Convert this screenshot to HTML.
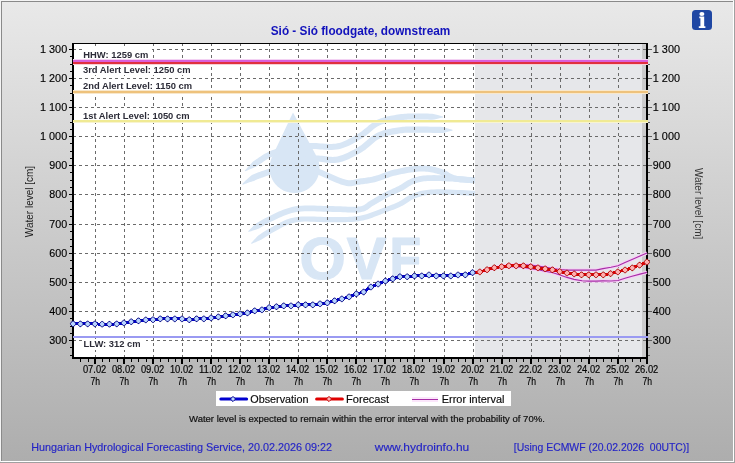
<!DOCTYPE html>
<html><head><meta charset="utf-8"><title>Sió - Sió floodgate, downstream</title>
<style>
html,body{margin:0;padding:0;}
body{width:735px;height:463px;overflow:hidden;position:relative;background:linear-gradient(180deg,#e9e9e9 0%,#adadad 100%);font-family:"Liberation Sans",Arial,sans-serif;}
svg{position:absolute;left:0;top:0;}
text{font-family:"Liberation Sans",Arial,sans-serif;}
</style></head><body>
<svg width="735" height="463" viewBox="0 0 735 463">

<g shape-rendering="crispEdges">
<rect x="0" y="0" width="735" height="1" fill="#f4f4f4"/><rect x="0" y="0" width="1" height="463" fill="#f4f4f4"/>
<rect x="1" y="1" width="733" height="1" fill="#8a8a8a"/><rect x="1" y="1" width="1" height="461" fill="#8a8a8a"/>
<rect x="1" y="461" width="733" height="1" fill="#ffffff"/><rect x="733" y="1" width="1" height="461" fill="#ffffff"/>
<rect x="0" y="462" width="735" height="1" fill="#a0a0a0"/><rect x="734" y="0" width="1" height="463" fill="#a0a0a0"/>
</g>
<rect x="74" y="44" width="401" height="313" fill="#ffffff" shape-rendering="crispEdges"/>
<g id="wm">
<path d="M293.0,112.5 L316.51,156.14 A25.0,25.0 0 1 1 271.88,157.35 Z" fill="#d8e6f5"/>
<path d="M245.26,171.37 L245.93,171.08 L246.76,170.71 L247.73,170.28 L248.81,169.79 L249.99,169.27 L251.24,168.72 L252.55,168.15 L253.87,167.58 L255.20,167.01 L256.51,166.46 L257.61,165.70 L258.67,164.99 L259.71,164.29 L260.72,163.59 L261.70,162.91 L262.65,162.23 L263.59,161.58 L264.54,160.94 L265.50,160.30 L266.51,159.68 L267.56,159.07 L268.69,158.46 L269.90,157.85 L271.23,157.24 L272.70,156.60 L274.31,155.92 L276.02,155.22 L277.82,154.52 L279.67,153.83 L281.56,153.14 L283.47,152.48 L285.38,151.86 L287.27,151.29 L289.12,150.77 L290.90,150.31 L292.60,149.94 L294.21,149.64 L295.76,149.42 L297.28,149.25 L298.79,149.13 L300.29,149.05 L301.81,149.01 L303.36,149.00 L304.95,149.00 L306.61,149.01 L308.33,149.02 L310.14,149.02 L312.00,149.00 L313.90,149.01 L315.88,149.09 L317.97,149.22 L320.14,149.39 L322.39,149.56 L324.68,149.73 L327.01,149.86 L329.35,149.94 L331.70,149.94 L334.04,149.84 L336.35,149.62 L338.60,149.24 L340.77,148.72 L342.88,148.08 L344.93,147.35 L346.94,146.52 L348.91,145.63 L350.83,144.68 L352.70,143.69 L354.54,142.68 L356.34,141.64 L358.10,140.61 L359.83,139.59 L361.56,138.56 L363.32,137.46 L365.03,136.26 L366.67,135.02 L368.25,133.75 L369.77,132.48 L371.26,131.23 L372.72,130.02 L374.16,128.87 L375.58,127.80 L377.01,126.83 L378.43,125.96 L379.89,125.21 L381.42,124.54 L383.04,123.93 L384.70,123.38 L386.40,122.88 L388.14,122.44 L389.90,122.04 L391.68,121.68 L393.46,121.35 L395.23,121.06 L397.00,120.78 L398.73,120.52 L400.42,120.27 L402.02,120.05 L403.55,119.88 L405.03,119.75 L406.50,119.65 L407.95,119.59 L409.41,119.54 L410.89,119.52 L412.40,119.51 L413.95,119.51 L415.57,119.51 L417.26,119.51 L419.01,119.50 L420.89,119.50 L422.96,119.51 L425.16,119.54 L427.46,119.59 L429.79,119.64 L432.11,119.70 L434.38,119.39 L436.53,118.91 L438.52,118.46 L440.30,118.06 L441.80,117.72 L442.99,117.45 L443.01,116.55 L441.84,116.22 L440.36,115.80 L438.62,115.30 L436.65,114.74 L434.52,114.13 L432.27,113.70 L429.93,113.64 L427.58,113.59 L425.26,113.55 L423.02,113.51 L420.91,113.50 L418.99,113.50 L417.24,113.51 L415.57,113.51 L413.95,113.51 L412.37,113.51 L410.81,113.52 L409.27,113.54 L407.72,113.59 L406.16,113.66 L404.57,113.77 L402.95,113.91 L401.28,114.10 L399.58,114.33 L397.85,114.59 L396.08,114.85 L394.27,115.13 L392.42,115.45 L390.54,115.79 L388.65,116.17 L386.74,116.61 L384.82,117.09 L382.92,117.65 L381.03,118.28 L379.16,118.98 L377.31,119.79 L375.50,120.73 L373.75,121.79 L372.08,122.93 L370.48,124.13 L368.93,125.37 L367.42,126.63 L365.93,127.88 L364.45,129.11 L362.98,130.29 L361.50,131.41 L360.00,132.46 L358.44,133.44 L356.77,134.42 L355.05,135.44 L353.33,136.45 L351.59,137.45 L349.85,138.42 L348.10,139.34 L346.34,140.21 L344.57,141.02 L342.79,141.74 L341.00,142.38 L339.20,142.93 L337.40,143.36 L335.56,143.67 L333.62,143.86 L331.58,143.94 L329.46,143.94 L327.28,143.86 L325.07,143.74 L322.83,143.58 L320.60,143.40 L318.38,143.24 L316.19,143.10 L314.04,143.01 L312.00,143.00 L310.12,143.02 L308.35,143.02 L306.64,143.01 L304.97,143.00 L303.33,143.00 L301.69,143.01 L300.05,143.06 L298.40,143.14 L296.72,143.28 L295.00,143.47 L293.23,143.73 L291.40,144.06 L289.51,144.48 L287.57,144.97 L285.59,145.53 L283.58,146.14 L281.57,146.79 L279.56,147.48 L277.59,148.20 L275.67,148.92 L273.80,149.65 L272.02,150.37 L270.35,151.08 L268.77,151.76 L267.30,152.44 L265.91,153.14 L264.63,153.84 L263.42,154.54 L262.29,155.24 L261.21,155.94 L260.19,156.63 L259.20,157.32 L258.24,158.00 L257.29,158.67 L256.33,159.34 L255.33,160.01 L254.25,160.73 L253.10,161.52 L252.09,162.57 L251.09,163.64 L250.10,164.72 L249.13,165.78 L248.21,166.80 L247.34,167.76 L246.54,168.64 L245.83,169.43 L245.23,170.10 L244.74,170.63Z" fill="#d8e6f5"/>
<path d="M242.74,184.70 L243.42,184.47 L244.26,184.17 L245.24,183.82 L246.33,183.42 L247.51,183.00 L248.77,182.56 L250.08,182.12 L251.42,181.68 L252.76,181.27 L254.07,180.90 L255.23,180.34 L256.31,179.81 L257.36,179.34 L258.39,178.92 L259.42,178.52 L260.47,178.14 L261.56,177.77 L262.69,177.39 L263.89,177.00 L265.16,176.57 L266.51,176.11 L267.95,175.60 L269.50,175.02 L271.16,174.37 L272.97,173.62 L274.89,172.77 L276.92,171.85 L279.02,170.88 L281.18,169.88 L283.37,168.87 L285.57,167.88 L287.76,166.93 L289.90,166.04 L291.98,165.24 L293.97,164.55 L295.83,163.99 L297.63,163.53 L299.40,163.15 L301.14,162.84 L302.86,162.58 L304.57,162.39 L306.27,162.23 L307.97,162.12 L309.68,162.03 L311.40,161.96 L313.15,161.91 L314.91,161.86 L316.66,161.80 L318.32,161.79 L319.96,161.87 L321.64,162.02 L323.36,162.21 L325.12,162.43 L326.92,162.65 L328.76,162.85 L330.65,163.01 L332.58,163.08 L334.56,163.05 L336.58,162.87 L338.62,162.54 L340.63,162.06 L342.62,161.47 L344.60,160.78 L346.59,160.02 L348.55,159.17 L350.51,158.27 L352.44,157.33 L354.34,156.34 L356.22,155.33 L358.05,154.31 L359.84,153.29 L361.61,152.25 L363.39,151.12 L365.12,149.89 L366.77,148.60 L368.35,147.28 L369.88,145.95 L371.37,144.65 L372.83,143.38 L374.27,142.18 L375.69,141.06 L377.11,140.05 L378.52,139.15 L379.97,138.38 L381.49,137.70 L383.10,137.07 L384.75,136.51 L386.45,136.00 L388.18,135.55 L389.94,135.15 L391.71,134.78 L393.48,134.46 L395.25,134.16 L397.01,133.88 L398.75,133.62 L400.44,133.37 L402.01,133.15 L403.46,132.99 L404.82,132.86 L406.15,132.77 L407.46,132.71 L408.80,132.68 L410.19,132.67 L411.67,132.67 L413.27,132.68 L415.00,132.69 L416.91,132.70 L418.99,132.70 L421.37,132.71 L424.10,132.73 L427.09,132.77 L430.28,132.83 L433.57,132.89 L436.87,132.96 L440.11,133.03 L443.21,132.89 L446.09,132.20 L448.65,131.59 L450.82,131.07 L452.49,130.66 L452.51,129.74 L450.85,129.26 L448.72,128.65 L446.19,127.92 L443.34,127.10 L440.25,126.83 L437.00,126.76 L433.69,126.69 L430.39,126.63 L427.19,126.57 L424.17,126.53 L421.41,126.51 L419.01,126.50 L416.93,126.50 L415.04,126.49 L413.31,126.48 L411.69,126.47 L410.16,126.47 L408.69,126.48 L407.24,126.52 L405.80,126.58 L404.33,126.68 L402.82,126.82 L401.23,127.00 L399.56,127.23 L397.83,127.49 L396.07,127.75 L394.25,128.04 L392.40,128.35 L390.52,128.70 L388.61,129.09 L386.70,129.53 L384.78,130.03 L382.87,130.60 L380.97,131.25 L379.09,131.98 L377.23,132.82 L375.40,133.80 L373.64,134.91 L371.97,136.11 L370.37,137.37 L368.81,138.66 L367.30,139.98 L365.81,141.28 L364.34,142.55 L362.88,143.77 L361.41,144.92 L359.93,145.98 L358.39,146.95 L356.73,147.92 L355.00,148.91 L353.23,149.90 L351.45,150.86 L349.65,151.79 L347.84,152.68 L346.04,153.51 L344.24,154.27 L342.47,154.96 L340.73,155.56 L339.02,156.07 L337.38,156.46 L335.81,156.72 L334.24,156.85 L332.65,156.88 L331.01,156.82 L329.34,156.68 L327.63,156.50 L325.88,156.28 L324.09,156.06 L322.26,155.85 L320.38,155.68 L318.46,155.59 L316.54,155.60 L314.72,155.66 L312.96,155.71 L311.18,155.77 L309.40,155.84 L307.60,155.93 L305.78,156.05 L303.93,156.22 L302.06,156.44 L300.15,156.72 L298.20,157.07 L296.21,157.49 L294.17,158.01 L292.04,158.66 L289.84,159.42 L287.60,160.29 L285.34,161.22 L283.06,162.21 L280.80,163.23 L278.58,164.25 L276.42,165.25 L274.33,166.22 L272.36,167.12 L270.52,167.92 L268.84,168.63 L267.29,169.23 L265.83,169.77 L264.47,170.26 L263.17,170.70 L261.94,171.11 L260.74,171.51 L259.57,171.90 L258.42,172.29 L257.26,172.71 L256.09,173.16 L254.91,173.65 L253.69,174.19 L252.43,174.80 L251.18,175.50 L250.06,176.47 L248.95,177.46 L247.88,178.45 L246.85,179.43 L245.88,180.37 L244.97,181.26 L244.14,182.07 L243.40,182.80 L242.77,183.41 L242.26,183.90Z" fill="#d8e6f5"/>
<path d="M299.11,168.86 L300.05,169.16 L301.21,169.51 L302.54,169.91 L304.02,170.35 L305.64,170.84 L307.36,171.37 L309.17,171.93 L311.04,172.52 L312.95,173.14 L314.88,173.78 L316.79,174.44 L318.65,175.11 L320.55,175.84 L322.59,176.69 L324.76,177.63 L327.01,178.63 L329.32,179.67 L331.65,180.71 L333.98,181.74 L336.29,182.71 L338.53,183.62 L340.70,184.42 L342.77,185.10 L344.72,185.62 L346.53,185.97 L348.21,186.18 L349.78,186.25 L351.24,186.20 L352.61,186.07 L353.88,185.86 L355.06,185.61 L356.18,185.35 L357.24,185.09 L358.27,184.85 L359.30,184.64 L360.41,184.47 L361.62,184.32 L362.87,184.17 L364.12,184.01 L365.38,183.85 L366.65,183.68 L367.95,183.49 L369.27,183.28 L370.61,183.05 L371.99,182.79 L373.40,182.50 L374.85,182.17 L376.36,181.80 L377.92,181.37 L379.48,180.87 L381.03,180.34 L382.58,179.77 L384.14,179.19 L385.70,178.60 L387.29,178.01 L388.89,177.43 L390.53,176.87 L392.20,176.35 L393.91,175.86 L395.69,175.42 L397.60,174.99 L399.65,174.55 L401.79,174.11 L404.00,173.68 L406.25,173.26 L408.51,172.87 L410.77,172.52 L413.00,172.20 L415.17,171.93 L417.26,171.72 L419.23,171.58 L421.07,171.50 L422.80,171.49 L424.47,171.54 L426.08,171.65 L427.65,171.81 L429.17,172.02 L430.65,172.26 L432.11,172.55 L433.54,172.87 L434.96,173.21 L436.36,173.58 L437.76,173.97 L439.10,174.36 L440.31,174.77 L441.40,175.22 L442.46,175.75 L443.52,176.33 L444.59,176.96 L445.71,177.64 L446.89,178.34 L448.15,179.04 L449.51,179.72 L450.98,180.37 L452.58,180.94 L454.30,181.42 L456.19,181.80 L458.23,182.12 L460.40,182.38 L462.66,182.60 L464.96,182.78 L467.25,182.93 L469.48,183.06 L471.60,183.16 L473.54,183.25 L475.25,183.34 L476.68,183.41 L477.79,183.49 L478.21,177.51 L477.05,177.42 L475.56,177.34 L473.82,177.26 L471.89,177.17 L469.80,177.07 L467.62,176.94 L465.40,176.80 L463.19,176.62 L461.05,176.42 L459.04,176.17 L457.23,175.89 L455.70,175.58 L454.39,175.22 L453.19,174.79 L452.06,174.29 L450.96,173.74 L449.88,173.13 L448.79,172.49 L447.66,171.81 L446.48,171.11 L445.23,170.42 L443.88,169.76 L442.42,169.15 L440.90,168.64 L439.40,168.20 L437.93,167.79 L436.43,167.40 L434.90,167.02 L433.33,166.67 L431.72,166.36 L430.06,166.08 L428.35,165.85 L426.59,165.67 L424.77,165.55 L422.88,165.49 L420.93,165.50 L418.88,165.59 L416.73,165.75 L414.50,165.97 L412.21,166.25 L409.88,166.58 L407.54,166.95 L405.19,167.36 L402.88,167.78 L400.61,168.23 L398.41,168.68 L396.31,169.13 L394.31,169.58 L392.37,170.06 L390.48,170.60 L388.66,171.17 L386.91,171.76 L385.22,172.37 L383.60,172.98 L382.02,173.57 L380.50,174.15 L379.02,174.68 L377.59,175.18 L376.21,175.62 L374.84,176.00 L373.47,176.33 L372.13,176.64 L370.83,176.91 L369.55,177.15 L368.29,177.36 L367.05,177.56 L365.82,177.74 L364.59,177.90 L363.36,178.06 L362.13,178.21 L360.89,178.37 L359.59,178.53 L358.26,178.73 L357.00,178.98 L355.84,179.25 L354.76,179.52 L353.75,179.76 L352.78,179.96 L351.83,180.12 L350.86,180.22 L349.83,180.25 L348.72,180.20 L347.47,180.05 L346.08,179.78 L344.49,179.35 L342.68,178.76 L340.70,178.02 L338.58,177.17 L336.36,176.23 L334.08,175.23 L331.77,174.19 L329.46,173.15 L327.17,172.14 L324.94,171.17 L322.78,170.28 L320.75,169.49 L318.78,168.78 L316.81,168.10 L314.83,167.44 L312.87,166.81 L310.96,166.20 L309.13,165.63 L307.38,165.10 L305.75,164.61 L304.26,164.16 L302.94,163.77 L301.81,163.42 L300.89,163.14Z" fill="#d8e6f5"/>
<path d="M248.62,231.97 L249.81,231.61 L251.28,231.13 L252.99,230.57 L254.90,229.94 L256.98,229.26 L259.09,228.39 L261.08,227.18 L263.13,225.97 L265.21,224.78 L267.27,223.64 L269.29,222.58 L271.26,221.61 L273.24,220.67 L275.22,219.70 L277.20,218.74 L279.18,217.80 L281.17,216.88 L283.19,216.00 L285.24,215.17 L287.34,214.39 L289.50,213.68 L291.73,213.05 L294.04,212.51 L296.45,212.06 L299.01,211.73 L301.78,211.50 L304.72,211.36 L307.78,211.30 L310.94,211.31 L314.15,211.37 L317.37,211.46 L320.59,211.57 L323.75,211.69 L326.82,211.79 L329.78,211.87 L332.57,211.90 L335.20,211.93 L337.78,212.00 L340.34,212.09 L342.85,212.20 L345.32,212.32 L347.72,212.43 L350.05,212.52 L352.31,212.57 L354.48,212.58 L356.56,212.52 L358.55,212.39 L360.44,212.17 L362.18,211.84 L363.75,211.41 L365.16,210.90 L366.42,210.32 L367.55,209.68 L368.56,209.02 L369.46,208.36 L370.28,207.72 L371.05,207.12 L371.80,206.56 L372.57,206.03 L373.45,205.51 L374.48,204.94 L375.55,204.32 L376.61,203.69 L377.67,203.06 L378.74,202.42 L379.80,201.78 L380.87,201.14 L381.94,200.51 L383.03,199.89 L384.12,199.27 L385.22,198.66 L386.33,198.08 L387.47,197.50 L388.64,196.93 L389.84,196.37 L391.07,195.80 L392.32,195.24 L393.59,194.67 L394.87,194.10 L396.16,193.52 L397.46,192.94 L398.75,192.34 L400.04,191.72 L401.33,191.08 L402.62,190.39 L403.87,189.66 L405.07,188.92 L406.23,188.17 L407.35,187.44 L408.46,186.73 L409.56,186.05 L410.66,185.40 L411.76,184.81 L412.89,184.27 L414.05,183.79 L415.29,183.36 L416.60,182.96 L417.86,182.60 L419.07,182.27 L420.27,181.99 L421.49,181.75 L422.77,181.53 L424.17,181.35 L425.71,181.20 L427.43,181.08 L429.37,180.99 L431.55,180.93 L434.00,180.90 L436.90,180.93 L440.33,181.02 L444.19,181.18 L448.34,181.38 L452.67,181.62 L457.05,181.88 L461.37,182.15 L465.50,182.42 L469.33,182.67 L472.75,182.89 L475.62,183.07 L477.83,183.20 L478.17,177.40 L475.97,177.28 L473.12,177.10 L469.71,176.88 L465.88,176.63 L461.73,176.36 L457.40,176.09 L453.00,175.83 L448.64,175.59 L444.45,175.39 L440.53,175.23 L437.01,175.13 L434.00,175.10 L431.44,175.13 L429.16,175.19 L427.10,175.29 L425.22,175.42 L423.51,175.59 L421.93,175.79 L420.44,176.04 L419.02,176.33 L417.66,176.65 L416.31,177.01 L414.95,177.40 L413.51,177.84 L411.99,178.36 L410.52,178.97 L409.14,179.64 L407.82,180.34 L406.56,181.08 L405.36,181.82 L404.20,182.57 L403.08,183.30 L401.97,184.01 L400.88,184.69 L399.79,185.32 L398.67,185.92 L397.49,186.51 L396.27,187.09 L395.03,187.67 L393.78,188.24 L392.51,188.81 L391.23,189.38 L389.95,189.95 L388.67,190.52 L387.40,191.11 L386.14,191.70 L384.89,192.30 L383.67,192.92 L382.47,193.56 L381.30,194.20 L380.15,194.85 L379.02,195.50 L377.91,196.16 L376.82,196.81 L375.75,197.45 L374.70,198.08 L373.66,198.70 L372.63,199.31 L371.61,199.89 L370.55,200.49 L369.46,201.14 L368.44,201.83 L367.53,202.51 L366.72,203.14 L365.96,203.73 L365.24,204.26 L364.53,204.73 L363.78,205.15 L362.96,205.53 L362.01,205.88 L360.89,206.18 L359.56,206.43 L358.02,206.62 L356.30,206.73 L354.42,206.78 L352.39,206.77 L350.23,206.72 L347.96,206.63 L345.58,206.53 L343.12,206.41 L340.58,206.30 L337.97,206.20 L335.31,206.13 L332.63,206.10 L329.89,206.07 L327.00,205.99 L323.95,205.89 L320.79,205.78 L317.56,205.66 L314.28,205.57 L310.99,205.51 L307.73,205.50 L304.53,205.56 L301.41,205.71 L298.40,205.96 L295.55,206.34 L292.85,206.83 L290.28,207.44 L287.81,208.14 L285.43,208.91 L283.15,209.76 L280.94,210.65 L278.80,211.59 L276.72,212.54 L274.68,213.52 L272.69,214.49 L270.72,215.44 L268.74,216.39 L266.66,217.41 L264.52,218.53 L262.36,219.72 L260.21,220.95 L258.11,222.20 L256.06,223.44 L254.31,224.94 L252.77,226.52 L251.37,227.97 L250.12,229.26 L249.05,230.36 L248.18,231.23Z" fill="#d8e6f5"/>
<path d="M251.42,243.82 L252.56,243.38 L253.98,242.80 L255.64,242.13 L257.50,241.36 L259.52,240.55 L261.56,239.55 L263.49,238.25 L265.47,236.94 L267.47,235.67 L269.45,234.45 L271.38,233.31 L273.25,232.28 L275.10,231.27 L276.94,230.25 L278.75,229.23 L280.54,228.23 L282.34,227.26 L284.15,226.34 L286.00,225.47 L287.91,224.67 L289.88,223.94 L291.95,223.28 L294.13,222.72 L296.43,222.26 L298.91,221.93 L301.62,221.72 L304.52,221.61 L307.58,221.59 L310.74,221.64 L313.96,221.74 L317.22,221.88 L320.47,222.02 L323.67,222.16 L326.79,222.26 L329.80,222.32 L332.63,222.30 L335.28,222.25 L337.82,222.23 L340.29,222.21 L342.69,222.19 L345.06,222.16 L347.38,222.12 L349.67,222.04 L351.94,221.92 L354.19,221.76 L356.45,221.53 L358.71,221.23 L360.98,220.86 L363.27,220.38 L365.57,219.80 L367.84,219.14 L370.09,218.43 L372.30,217.66 L374.47,216.87 L376.57,216.07 L378.62,215.27 L380.58,214.49 L382.45,213.75 L384.23,213.06 L385.90,212.44 L387.47,211.87 L388.95,211.34 L390.33,210.83 L391.64,210.35 L392.88,209.88 L394.08,209.41 L395.25,208.95 L396.40,208.48 L397.55,207.99 L398.71,207.47 L399.90,206.93 L401.15,206.33 L402.45,205.66 L403.70,204.94 L404.91,204.20 L406.08,203.44 L407.22,202.68 L408.35,201.94 L409.46,201.21 L410.58,200.52 L411.70,199.87 L412.85,199.27 L414.04,198.73 L415.31,198.24 L416.64,197.76 L417.93,197.31 L419.16,196.89 L420.36,196.50 L421.59,196.15 L422.87,195.83 L424.25,195.54 L425.77,195.28 L427.47,195.06 L429.39,194.87 L431.55,194.71 L433.98,194.60 L436.87,194.54 L440.30,194.56 L444.16,194.64 L448.32,194.76 L452.66,194.92 L457.05,195.11 L461.38,195.31 L465.53,195.51 L469.37,195.70 L472.79,195.87 L475.68,196.01 L477.89,196.10 L478.11,190.90 L475.91,190.81 L473.04,190.68 L469.63,190.51 L465.78,190.32 L461.63,190.12 L457.28,189.92 L452.87,189.73 L448.50,189.56 L444.29,189.44 L440.37,189.36 L436.84,189.34 L433.82,189.40 L431.25,189.52 L428.95,189.68 L426.88,189.89 L425.00,190.14 L423.29,190.43 L421.72,190.76 L420.25,191.12 L418.86,191.52 L417.52,191.95 L416.21,192.40 L414.90,192.86 L413.49,193.36 L412.01,193.94 L410.57,194.60 L409.21,195.31 L407.91,196.06 L406.68,196.82 L405.49,197.59 L404.35,198.35 L403.23,199.09 L402.13,199.80 L401.05,200.47 L399.96,201.09 L398.85,201.67 L397.70,202.21 L396.58,202.73 L395.48,203.22 L394.39,203.68 L393.30,204.13 L392.18,204.57 L391.03,205.02 L389.82,205.48 L388.53,205.95 L387.17,206.45 L385.70,206.98 L384.10,207.56 L382.38,208.20 L380.56,208.91 L378.67,209.66 L376.71,210.43 L374.70,211.22 L372.65,212.00 L370.56,212.76 L368.45,213.49 L366.33,214.17 L364.21,214.78 L362.11,215.31 L360.02,215.74 L357.94,216.09 L355.85,216.37 L353.74,216.58 L351.61,216.73 L349.45,216.85 L347.24,216.92 L344.97,216.97 L342.65,216.99 L340.25,217.01 L337.77,217.03 L335.20,217.05 L332.57,217.10 L329.83,217.12 L326.93,217.06 L323.87,216.96 L320.69,216.82 L317.44,216.68 L314.15,216.55 L310.86,216.44 L307.60,216.39 L304.41,216.41 L301.32,216.52 L298.36,216.76 L295.57,217.14 L292.97,217.65 L290.52,218.28 L288.20,219.02 L285.99,219.83 L283.89,220.72 L281.87,221.67 L279.93,222.66 L278.05,223.67 L276.21,224.69 L274.40,225.71 L272.59,226.72 L270.75,227.72 L268.80,228.80 L266.77,229.99 L264.70,231.26 L262.64,232.58 L260.61,233.92 L258.64,235.24 L256.94,236.79 L255.45,238.40 L254.08,239.87 L252.87,241.18 L251.83,242.30 L250.98,243.18Z" fill="#d8e6f5"/>
<g font-size="59.5" font-weight="bold" fill="#d8e6f5" stroke="#d8e6f5" stroke-width="1.2" stroke-linejoin="round"><text x="299.6" y="278.6">O</text><text x="346.8" y="278.6">V</text><text x="389.6" y="278.6" textLength="31.6" lengthAdjust="spacingAndGlyphs">F</text></g>
</g>
<g shape-rendering="crispEdges">
<rect x="475" y="44" width="167" height="313" fill="#e6e7ea"/>
<rect x="642" y="44" width="4" height="313" fill="#cbcbcc"/>
</g>
<g shape-rendering="crispEdges" stroke="#6a6a6a" stroke-width="1" stroke-dasharray="3,3">
<line x1="73" y1="49.5" x2="646" y2="49.5"/>
<line x1="73" y1="78.5" x2="646" y2="78.5"/>
<line x1="73" y1="107.5" x2="646" y2="107.5"/>
<line x1="73" y1="136.5" x2="646" y2="136.5"/>
<line x1="73" y1="165.5" x2="646" y2="165.5"/>
<line x1="73" y1="194.5" x2="646" y2="194.5"/>
<line x1="73" y1="224.5" x2="646" y2="224.5"/>
<line x1="73" y1="253.5" x2="646" y2="253.5"/>
<line x1="73" y1="282.5" x2="646" y2="282.5"/>
<line x1="73" y1="311.5" x2="646" y2="311.5"/>
<line x1="73" y1="340.5" x2="646" y2="340.5"/>
<line x1="95.5" y1="44" x2="95.5" y2="357" stroke-dashoffset="1"/>
<line x1="124.5" y1="44" x2="124.5" y2="357" stroke-dashoffset="1"/>
<line x1="153.5" y1="44" x2="153.5" y2="357" stroke-dashoffset="1"/>
<line x1="182.5" y1="44" x2="182.5" y2="357" stroke-dashoffset="1"/>
<line x1="211.5" y1="44" x2="211.5" y2="357" stroke-dashoffset="1"/>
<line x1="240.5" y1="44" x2="240.5" y2="357" stroke-dashoffset="1"/>
<line x1="269.5" y1="44" x2="269.5" y2="357" stroke-dashoffset="1"/>
<line x1="298.5" y1="44" x2="298.5" y2="357" stroke-dashoffset="1"/>
<line x1="327.5" y1="44" x2="327.5" y2="357" stroke-dashoffset="1"/>
<line x1="356.5" y1="44" x2="356.5" y2="357" stroke-dashoffset="1"/>
<line x1="385.5" y1="44" x2="385.5" y2="357" stroke-dashoffset="1"/>
<line x1="414.5" y1="44" x2="414.5" y2="357" stroke-dashoffset="1"/>
<line x1="444.5" y1="44" x2="444.5" y2="357" stroke-dashoffset="1"/>
<line x1="473.5" y1="44" x2="473.5" y2="357" stroke-dashoffset="1"/>
<line x1="502.5" y1="44" x2="502.5" y2="357" stroke-dashoffset="1"/>
<line x1="531.5" y1="44" x2="531.5" y2="357" stroke-dashoffset="1"/>
<line x1="560.5" y1="44" x2="560.5" y2="357" stroke-dashoffset="1"/>
<line x1="589.5" y1="44" x2="589.5" y2="357" stroke-dashoffset="1"/>
<line x1="618.5" y1="44" x2="618.5" y2="357" stroke-dashoffset="1"/>
</g>
<g shape-rendering="crispEdges" fill="#000">
<rect x="72" y="43" width="576" height="1"/>
<rect x="72" y="357" width="576" height="2"/>
<rect x="72" y="43" width="2" height="316"/>
<rect x="646" y="43" width="2" height="316"/>
<rect x="69" y="49" width="3" height="1"/>
<rect x="69" y="78" width="3" height="1"/>
<rect x="69" y="107" width="3" height="1"/>
<rect x="69" y="136" width="3" height="1"/>
<rect x="69" y="165" width="3" height="1"/>
<rect x="69" y="194" width="3" height="1"/>
<rect x="69" y="224" width="3" height="1"/>
<rect x="69" y="253" width="3" height="1"/>
<rect x="69" y="282" width="3" height="1"/>
<rect x="69" y="311" width="3" height="1"/>
<rect x="69" y="340" width="3" height="1"/>
<rect x="70" y="56" width="2" height="1"/>
<rect x="70" y="64" width="2" height="1"/>
<rect x="70" y="71" width="2" height="1"/>
<rect x="70" y="85" width="2" height="1"/>
<rect x="70" y="93" width="2" height="1"/>
<rect x="70" y="100" width="2" height="1"/>
<rect x="70" y="114" width="2" height="1"/>
<rect x="70" y="122" width="2" height="1"/>
<rect x="70" y="129" width="2" height="1"/>
<rect x="70" y="143" width="2" height="1"/>
<rect x="70" y="151" width="2" height="1"/>
<rect x="70" y="158" width="2" height="1"/>
<rect x="70" y="172" width="2" height="1"/>
<rect x="70" y="180" width="2" height="1"/>
<rect x="70" y="187" width="2" height="1"/>
<rect x="70" y="201" width="2" height="1"/>
<rect x="70" y="209" width="2" height="1"/>
<rect x="70" y="216" width="2" height="1"/>
<rect x="70" y="231" width="2" height="1"/>
<rect x="70" y="239" width="2" height="1"/>
<rect x="70" y="246" width="2" height="1"/>
<rect x="70" y="260" width="2" height="1"/>
<rect x="70" y="268" width="2" height="1"/>
<rect x="70" y="275" width="2" height="1"/>
<rect x="70" y="289" width="2" height="1"/>
<rect x="70" y="297" width="2" height="1"/>
<rect x="70" y="304" width="2" height="1"/>
<rect x="70" y="318" width="2" height="1"/>
<rect x="70" y="326" width="2" height="1"/>
<rect x="70" y="333" width="2" height="1"/>
<rect x="70" y="347" width="2" height="1"/>
<rect x="70" y="355" width="2" height="1"/>
</g>
<g shape-rendering="crispEdges" fill="#5a5a5a">
<rect x="648" y="49" width="4" height="1"/>
<rect x="648" y="78" width="4" height="1"/>
<rect x="648" y="107" width="4" height="1"/>
<rect x="648" y="136" width="4" height="1"/>
<rect x="648" y="165" width="4" height="1"/>
<rect x="648" y="194" width="4" height="1"/>
<rect x="648" y="224" width="4" height="1"/>
<rect x="648" y="253" width="4" height="1"/>
<rect x="648" y="282" width="4" height="1"/>
<rect x="648" y="311" width="4" height="1"/>
<rect x="648" y="340" width="4" height="1"/>
<rect x="648" y="56" width="2" height="1"/>
<rect x="648" y="64" width="2" height="1"/>
<rect x="648" y="71" width="2" height="1"/>
<rect x="648" y="85" width="2" height="1"/>
<rect x="648" y="93" width="2" height="1"/>
<rect x="648" y="100" width="2" height="1"/>
<rect x="648" y="114" width="2" height="1"/>
<rect x="648" y="122" width="2" height="1"/>
<rect x="648" y="129" width="2" height="1"/>
<rect x="648" y="143" width="2" height="1"/>
<rect x="648" y="151" width="2" height="1"/>
<rect x="648" y="158" width="2" height="1"/>
<rect x="648" y="172" width="2" height="1"/>
<rect x="648" y="180" width="2" height="1"/>
<rect x="648" y="187" width="2" height="1"/>
<rect x="648" y="201" width="2" height="1"/>
<rect x="648" y="209" width="2" height="1"/>
<rect x="648" y="216" width="2" height="1"/>
<rect x="648" y="231" width="2" height="1"/>
<rect x="648" y="239" width="2" height="1"/>
<rect x="648" y="246" width="2" height="1"/>
<rect x="648" y="260" width="2" height="1"/>
<rect x="648" y="268" width="2" height="1"/>
<rect x="648" y="275" width="2" height="1"/>
<rect x="648" y="289" width="2" height="1"/>
<rect x="648" y="297" width="2" height="1"/>
<rect x="648" y="304" width="2" height="1"/>
<rect x="648" y="318" width="2" height="1"/>
<rect x="648" y="326" width="2" height="1"/>
<rect x="648" y="333" width="2" height="1"/>
<rect x="648" y="347" width="2" height="1"/>
<rect x="648" y="355" width="2" height="1"/>
</g>
<g shape-rendering="crispEdges" fill="#000">
<rect x="94" y="359" width="2" height="5"/>
<rect x="123" y="359" width="2" height="5"/>
<rect x="152" y="359" width="2" height="5"/>
<rect x="181" y="359" width="2" height="5"/>
<rect x="210" y="359" width="2" height="5"/>
<rect x="239" y="359" width="2" height="5"/>
<rect x="268" y="359" width="2" height="5"/>
<rect x="297" y="359" width="2" height="5"/>
<rect x="326" y="359" width="2" height="5"/>
<rect x="355" y="359" width="2" height="5"/>
<rect x="384" y="359" width="2" height="5"/>
<rect x="413" y="359" width="2" height="5"/>
<rect x="443" y="359" width="2" height="5"/>
<rect x="472" y="359" width="2" height="5"/>
<rect x="501" y="359" width="2" height="5"/>
<rect x="530" y="359" width="2" height="5"/>
<rect x="559" y="359" width="2" height="5"/>
<rect x="588" y="359" width="2" height="5"/>
<rect x="617" y="359" width="2" height="5"/>
<rect x="646" y="359" width="2" height="5"/>
<rect x="80" y="359" width="1" height="3"/>
<rect x="88" y="359" width="1" height="3"/>
<rect x="102" y="359" width="1" height="3"/>
<rect x="109" y="359" width="1" height="3"/>
<rect x="117" y="359" width="1" height="3"/>
<rect x="131" y="359" width="1" height="3"/>
<rect x="138" y="359" width="1" height="3"/>
<rect x="146" y="359" width="1" height="3"/>
<rect x="160" y="359" width="1" height="3"/>
<rect x="168" y="359" width="1" height="3"/>
<rect x="175" y="359" width="1" height="3"/>
<rect x="189" y="359" width="1" height="3"/>
<rect x="197" y="359" width="1" height="3"/>
<rect x="204" y="359" width="1" height="3"/>
<rect x="218" y="359" width="1" height="3"/>
<rect x="226" y="359" width="1" height="3"/>
<rect x="233" y="359" width="1" height="3"/>
<rect x="247" y="359" width="1" height="3"/>
<rect x="255" y="359" width="1" height="3"/>
<rect x="262" y="359" width="1" height="3"/>
<rect x="276" y="359" width="1" height="3"/>
<rect x="284" y="359" width="1" height="3"/>
<rect x="291" y="359" width="1" height="3"/>
<rect x="306" y="359" width="1" height="3"/>
<rect x="313" y="359" width="1" height="3"/>
<rect x="320" y="359" width="1" height="3"/>
<rect x="335" y="359" width="1" height="3"/>
<rect x="342" y="359" width="1" height="3"/>
<rect x="349" y="359" width="1" height="3"/>
<rect x="364" y="359" width="1" height="3"/>
<rect x="371" y="359" width="1" height="3"/>
<rect x="378" y="359" width="1" height="3"/>
<rect x="393" y="359" width="1" height="3"/>
<rect x="400" y="359" width="1" height="3"/>
<rect x="407" y="359" width="1" height="3"/>
<rect x="422" y="359" width="1" height="3"/>
<rect x="429" y="359" width="1" height="3"/>
<rect x="436" y="359" width="1" height="3"/>
<rect x="451" y="359" width="1" height="3"/>
<rect x="458" y="359" width="1" height="3"/>
<rect x="465" y="359" width="1" height="3"/>
<rect x="480" y="359" width="1" height="3"/>
<rect x="487" y="359" width="1" height="3"/>
<rect x="494" y="359" width="1" height="3"/>
<rect x="509" y="359" width="1" height="3"/>
<rect x="516" y="359" width="1" height="3"/>
<rect x="523" y="359" width="1" height="3"/>
<rect x="538" y="359" width="1" height="3"/>
<rect x="545" y="359" width="1" height="3"/>
<rect x="552" y="359" width="1" height="3"/>
<rect x="567" y="359" width="1" height="3"/>
<rect x="574" y="359" width="1" height="3"/>
<rect x="581" y="359" width="1" height="3"/>
<rect x="596" y="359" width="1" height="3"/>
<rect x="603" y="359" width="1" height="3"/>
<rect x="611" y="359" width="1" height="3"/>
<rect x="625" y="359" width="1" height="3"/>
<rect x="632" y="359" width="1" height="3"/>
<rect x="640" y="359" width="1" height="3"/>
</g>
<g shape-rendering="crispEdges" fill="#ffffff">
<rect x="82" y="46" width="70" height="14"/>
<rect x="82" y="62" width="111" height="13"/>
<rect x="82" y="79" width="112" height="12"/>
<rect x="82" y="108" width="109" height="12"/>
<rect x="82" y="339" width="64" height="11"/>
</g>
<g shape-rendering="crispEdges">
<rect x="73" y="59" width="575" height="1" fill="#f3d2f3"/>
<rect x="73" y="60" width="575" height="2" fill="#d95fd9"/>
<rect x="73" y="62" width="575" height="2" fill="#e0303f"/>
<rect x="73" y="64" width="575" height="1" fill="#f7d0d4"/>
<rect x="73" y="90" width="575" height="1" fill="#f8e8cc"/>
<rect x="73" y="91" width="575" height="2" fill="#eec27c"/>
<rect x="73" y="93" width="575" height="1" fill="#f8e8cc"/>
<rect x="73" y="120" width="575" height="2" fill="#f0ea94"/>
<rect x="73" y="122" width="575" height="1" fill="#f8f4d0"/>
<rect x="73" y="336" width="575" height="2" fill="#9a9af2"/>
</g>
<g font-size="9.4" font-weight="bold" fill="#2c2c38">
<text x="83.3" y="58.2">HHW: 1259 cm</text>
<text x="83.0" y="73.0">3rd Alert Level: 1250 cm</text>
<text x="83.0" y="89.1">2nd Alert Level: 1150 cm</text>
<text x="83.0" y="119.3">1st Alert Level: 1050 cm</text>
<text x="83.5" y="346.90000000000003">LLW: 312 cm</text>
</g>
<polyline points="473.00,272.60 480.00,271.50 487.00,269.30 494.00,267.20 502.00,266.00 509.00,265.00 516.00,264.80 523.00,264.70 531.00,265.00 538.00,266.00 545.00,267.00 553.00,268.50 560.00,269.50 567.00,270.10 574.00,270.10 582.00,270.10 589.00,270.10 596.00,270.10 603.00,268.60 611.00,267.20 618.00,265.70 625.00,262.50 632.00,259.50 640.00,256.00 647.00,253.00" fill="none" stroke="#f6d0f6" stroke-width="3.4"/>
<polyline points="473.00,272.60 480.00,272.20 487.00,270.20 494.00,268.30 502.00,267.30 509.00,266.50 516.00,266.80 523.00,267.30 531.00,268.80 538.00,269.80 545.00,271.20 553.00,272.80 560.00,275.00 567.00,277.40 574.00,279.40 582.00,280.70 589.00,281.10 596.00,281.10 603.00,280.90 611.00,281.00 618.00,280.50 625.00,278.30 632.00,276.30 640.00,274.10 647.00,272.40" fill="none" stroke="#f6d0f6" stroke-width="3.4"/>
<polyline points="473.00,272.60 480.00,271.50 487.00,269.30 494.00,267.20 502.00,266.00 509.00,265.00 516.00,264.80 523.00,264.70 531.00,265.00 538.00,266.00 545.00,267.00 553.00,268.50 560.00,269.50 567.00,270.10 574.00,270.10 582.00,270.10 589.00,270.10 596.00,270.10 603.00,268.60 611.00,267.20 618.00,265.70 625.00,262.50 632.00,259.50 640.00,256.00 647.00,253.00" fill="none" stroke="#a62ea6" stroke-width="1.1"/>
<polyline points="473.00,272.60 480.00,272.20 487.00,270.20 494.00,268.30 502.00,267.30 509.00,266.50 516.00,266.80 523.00,267.30 531.00,268.80 538.00,269.80 545.00,271.20 553.00,272.80 560.00,275.00 567.00,277.40 574.00,279.40 582.00,280.70 589.00,281.10 596.00,281.10 603.00,280.90 611.00,281.00 618.00,280.50 625.00,278.30 632.00,276.30 640.00,274.10 647.00,272.40" fill="none" stroke="#a62ea6" stroke-width="1.1"/>
<polyline points="472.55,272.60 479.81,271.90 487.08,269.70 494.34,267.70 501.60,266.70 508.86,265.70 516.12,265.80 523.39,265.80 530.65,266.70 537.91,267.80 545.18,268.80 552.44,269.80 559.70,271.60 566.96,273.00 574.23,273.90 581.49,274.80 588.75,274.80 596.01,274.80 603.27,274.80 610.54,273.60 617.80,271.90 625.06,270.00 632.33,267.90 639.59,265.10 646.85,262.10" fill="none" stroke="#e00000" stroke-width="3.0" stroke-linejoin="round" shape-rendering="crispEdges"/>
<g fill="#ffb0b0" stroke="#a80000" stroke-width="0.9">
<path d="M479.16,269.15L480.46,269.15L482.41,271.35L482.41,272.45L480.46,274.65L479.16,274.65L477.21,272.45L477.21,271.35ZM486.43,266.95L487.73,266.95L489.68,269.15L489.68,270.25L487.73,272.45L486.43,272.45L484.48,270.25L484.48,269.15ZM493.69,264.95L494.99,264.95L496.94,267.15L496.94,268.25L494.99,270.45L493.69,270.45L491.74,268.25L491.74,267.15ZM500.95,263.95L502.25,263.95L504.20,266.15L504.20,267.25L502.25,269.45L500.95,269.45L499.00,267.25L499.00,266.15ZM508.21,262.95L509.51,262.95L511.46,265.15L511.46,266.25L509.51,268.45L508.21,268.45L506.26,266.25L506.26,265.15ZM515.48,263.05L516.77,263.05L518.73,265.25L518.73,266.35L516.77,268.55L515.48,268.55L513.52,266.35L513.52,265.25ZM522.74,263.05L524.04,263.05L525.99,265.25L525.99,266.35L524.04,268.55L522.74,268.55L520.79,266.35L520.79,265.25ZM530.00,263.95L531.30,263.95L533.25,266.15L533.25,267.25L531.30,269.45L530.00,269.45L528.05,267.25L528.05,266.15ZM537.26,265.05L538.56,265.05L540.51,267.25L540.51,268.35L538.56,270.55L537.26,270.55L535.31,268.35L535.31,267.25ZM544.53,266.05L545.83,266.05L547.78,268.25L547.78,269.35L545.83,271.55L544.53,271.55L542.58,269.35L542.58,268.25ZM551.79,267.05L553.09,267.05L555.04,269.25L555.04,270.35L553.09,272.55L551.79,272.55L549.84,270.35L549.84,269.25ZM559.05,268.85L560.35,268.85L562.30,271.05L562.30,272.15L560.35,274.35L559.05,274.35L557.10,272.15L557.10,271.05ZM566.31,270.25L567.61,270.25L569.56,272.45L569.56,273.55L567.61,275.75L566.31,275.75L564.36,273.55L564.36,272.45ZM573.58,271.15L574.88,271.15L576.83,273.35L576.83,274.45L574.88,276.65L573.58,276.65L571.62,274.45L571.62,273.35ZM580.84,272.05L582.14,272.05L584.09,274.25L584.09,275.35L582.14,277.55L580.84,277.55L578.89,275.35L578.89,274.25ZM588.10,272.05L589.40,272.05L591.35,274.25L591.35,275.35L589.40,277.55L588.10,277.55L586.15,275.35L586.15,274.25ZM595.36,272.05L596.66,272.05L598.61,274.25L598.61,275.35L596.66,277.55L595.36,277.55L593.41,275.35L593.41,274.25ZM602.62,272.05L603.92,272.05L605.88,274.25L605.88,275.35L603.92,277.55L602.62,277.55L600.67,275.35L600.67,274.25ZM609.89,270.85L611.19,270.85L613.14,273.05L613.14,274.15L611.19,276.35L609.89,276.35L607.94,274.15L607.94,273.05ZM617.15,269.15L618.45,269.15L620.40,271.35L620.40,272.45L618.45,274.65L617.15,274.65L615.20,272.45L615.20,271.35ZM624.41,267.25L625.71,267.25L627.66,269.45L627.66,270.55L625.71,272.75L624.41,272.75L622.46,270.55L622.46,269.45ZM631.68,265.15L632.98,265.15L634.93,267.35L634.93,268.45L632.98,270.65L631.68,270.65L629.73,268.45L629.73,267.35ZM638.94,262.35L640.24,262.35L642.19,264.55L642.19,265.65L640.24,267.85L638.94,267.85L636.99,265.65L636.99,264.55ZM646.20,259.35L647.50,259.35L649.45,261.55L649.45,262.65L647.50,264.85L646.20,264.85L644.25,262.65L644.25,261.55Z"/>
</g>
<polyline points="73.11,323.80 80.38,323.90 87.64,323.90 94.90,323.90 102.16,324.20 109.43,324.20 116.69,323.90 123.95,322.90 131.21,321.70 138.48,320.80 145.74,319.90 153.00,319.70 160.26,318.80 167.53,318.90 174.79,318.90 182.05,318.90 189.31,319.70 196.57,318.80 203.84,318.80 211.10,317.90 218.36,316.90 225.62,315.80 232.89,314.80 240.15,313.90 247.41,312.90 254.68,310.80 261.94,309.80 269.20,307.60 276.46,306.70 283.73,305.80 290.99,305.80 298.25,304.80 305.51,304.80 312.77,304.80 320.04,303.80 327.30,302.80 334.56,300.80 341.83,298.90 349.09,296.80 356.35,293.90 363.61,292.00 370.88,287.00 378.14,284.00 385.40,281.00 392.66,278.80 399.93,276.70 407.19,276.70 414.45,275.90 421.71,275.90 428.98,274.90 436.24,275.90 443.50,275.90 450.76,275.90 458.02,274.90 465.29,274.80 472.55,272.60" fill="none" stroke="#0000d0" stroke-width="3.0" stroke-linejoin="round" shape-rendering="crispEdges"/>
<g fill="#b8d4ff" stroke="#000080" stroke-width="0.9">
<path d="M72.46,321.05L73.76,321.05L75.71,323.25L75.71,324.35L73.76,326.55L72.46,326.55L70.51,324.35L70.51,323.25ZM79.72,321.15L81.03,321.15L82.97,323.35L82.97,324.45L81.03,326.65L79.72,326.65L77.78,324.45L77.78,323.35ZM86.99,321.15L88.29,321.15L90.24,323.35L90.24,324.45L88.29,326.65L86.99,326.65L85.04,324.45L85.04,323.35ZM94.25,321.15L95.55,321.15L97.50,323.35L97.50,324.45L95.55,326.65L94.25,326.65L92.30,324.45L92.30,323.35ZM101.51,321.45L102.81,321.45L104.76,323.65L104.76,324.75L102.81,326.95L101.51,326.95L99.56,324.75L99.56,323.65ZM108.78,321.45L110.08,321.45L112.03,323.65L112.03,324.75L110.08,326.95L108.78,326.95L106.83,324.75L106.83,323.65ZM116.04,321.15L117.34,321.15L119.29,323.35L119.29,324.45L117.34,326.65L116.04,326.65L114.09,324.45L114.09,323.35ZM123.30,320.15L124.60,320.15L126.55,322.35L126.55,323.45L124.60,325.65L123.30,325.65L121.35,323.45L121.35,322.35ZM130.56,318.95L131.86,318.95L133.81,321.15L133.81,322.25L131.86,324.45L130.56,324.45L128.61,322.25L128.61,321.15ZM137.83,318.05L139.13,318.05L141.08,320.25L141.08,321.35L139.13,323.55L137.83,323.55L135.88,321.35L135.88,320.25ZM145.09,317.15L146.39,317.15L148.34,319.35L148.34,320.45L146.39,322.65L145.09,322.65L143.14,320.45L143.14,319.35ZM152.35,316.95L153.65,316.95L155.60,319.15L155.60,320.25L153.65,322.45L152.35,322.45L150.40,320.25L150.40,319.15ZM159.61,316.05L160.91,316.05L162.86,318.25L162.86,319.35L160.91,321.55L159.61,321.55L157.66,319.35L157.66,318.25ZM166.88,316.15L168.18,316.15L170.12,318.35L170.12,319.45L168.18,321.65L166.88,321.65L164.93,319.45L164.93,318.35ZM174.14,316.15L175.44,316.15L177.39,318.35L177.39,319.45L175.44,321.65L174.14,321.65L172.19,319.45L172.19,318.35ZM181.40,316.15L182.70,316.15L184.65,318.35L184.65,319.45L182.70,321.65L181.40,321.65L179.45,319.45L179.45,318.35ZM188.66,316.95L189.96,316.95L191.91,319.15L191.91,320.25L189.96,322.45L188.66,322.45L186.71,320.25L186.71,319.15ZM195.92,316.05L197.22,316.05L199.17,318.25L199.17,319.35L197.22,321.55L195.92,321.55L193.97,319.35L193.97,318.25ZM203.19,316.05L204.49,316.05L206.44,318.25L206.44,319.35L204.49,321.55L203.19,321.55L201.24,319.35L201.24,318.25ZM210.45,315.15L211.75,315.15L213.70,317.35L213.70,318.45L211.75,320.65L210.45,320.65L208.50,318.45L208.50,317.35ZM217.71,314.15L219.01,314.15L220.96,316.35L220.96,317.45L219.01,319.65L217.71,319.65L215.76,317.45L215.76,316.35ZM224.97,313.05L226.28,313.05L228.22,315.25L228.22,316.35L226.28,318.55L224.97,318.55L223.03,316.35L223.03,315.25ZM232.24,312.05L233.54,312.05L235.49,314.25L235.49,315.35L233.54,317.55L232.24,317.55L230.29,315.35L230.29,314.25ZM239.50,311.15L240.80,311.15L242.75,313.35L242.75,314.45L240.80,316.65L239.50,316.65L237.55,314.45L237.55,313.35ZM246.76,310.15L248.06,310.15L250.01,312.35L250.01,313.45L248.06,315.65L246.76,315.65L244.81,313.45L244.81,312.35ZM254.03,308.05L255.33,308.05L257.28,310.25L257.28,311.35L255.33,313.55L254.03,313.55L252.08,311.35L252.08,310.25ZM261.29,307.05L262.59,307.05L264.54,309.25L264.54,310.35L262.59,312.55L261.29,312.55L259.34,310.35L259.34,309.25ZM268.55,304.85L269.85,304.85L271.80,307.05L271.80,308.15L269.85,310.35L268.55,310.35L266.60,308.15L266.60,307.05ZM275.81,303.95L277.11,303.95L279.06,306.15L279.06,307.25L277.11,309.45L275.81,309.45L273.86,307.25L273.86,306.15ZM283.08,303.05L284.38,303.05L286.33,305.25L286.33,306.35L284.38,308.55L283.08,308.55L281.12,306.35L281.12,305.25ZM290.34,303.05L291.64,303.05L293.59,305.25L293.59,306.35L291.64,308.55L290.34,308.55L288.39,306.35L288.39,305.25ZM297.60,302.05L298.90,302.05L300.85,304.25L300.85,305.35L298.90,307.55L297.60,307.55L295.65,305.35L295.65,304.25ZM304.86,302.05L306.16,302.05L308.11,304.25L308.11,305.35L306.16,307.55L304.86,307.55L302.91,305.35L302.91,304.25ZM312.12,302.05L313.42,302.05L315.38,304.25L315.38,305.35L313.42,307.55L312.12,307.55L310.17,305.35L310.17,304.25ZM319.39,301.05L320.69,301.05L322.64,303.25L322.64,304.35L320.69,306.55L319.39,306.55L317.44,304.35L317.44,303.25ZM326.65,300.05L327.95,300.05L329.90,302.25L329.90,303.35L327.95,305.55L326.65,305.55L324.70,303.35L324.70,302.25ZM333.91,298.05L335.21,298.05L337.16,300.25L337.16,301.35L335.21,303.55L333.91,303.55L331.96,301.35L331.96,300.25ZM341.18,296.15L342.48,296.15L344.43,298.35L344.43,299.45L342.48,301.65L341.18,301.65L339.23,299.45L339.23,298.35ZM348.44,294.05L349.74,294.05L351.69,296.25L351.69,297.35L349.74,299.55L348.44,299.55L346.49,297.35L346.49,296.25ZM355.70,291.15L357.00,291.15L358.95,293.35L358.95,294.45L357.00,296.65L355.70,296.65L353.75,294.45L353.75,293.35ZM362.96,289.25L364.26,289.25L366.21,291.45L366.21,292.55L364.26,294.75L362.96,294.75L361.01,292.55L361.01,291.45ZM370.23,284.25L371.52,284.25L373.48,286.45L373.48,287.55L371.52,289.75L370.23,289.75L368.27,287.55L368.27,286.45ZM377.49,281.25L378.79,281.25L380.74,283.45L380.74,284.55L378.79,286.75L377.49,286.75L375.54,284.55L375.54,283.45ZM384.75,278.25L386.05,278.25L388.00,280.45L388.00,281.55L386.05,283.75L384.75,283.75L382.80,281.55L382.80,280.45ZM392.01,276.05L393.31,276.05L395.26,278.25L395.26,279.35L393.31,281.55L392.01,281.55L390.06,279.35L390.06,278.25ZM399.28,273.95L400.58,273.95L402.53,276.15L402.53,277.25L400.58,279.45L399.28,279.45L397.33,277.25L397.33,276.15ZM406.54,273.95L407.84,273.95L409.79,276.15L409.79,277.25L407.84,279.45L406.54,279.45L404.59,277.25L404.59,276.15ZM413.80,273.15L415.10,273.15L417.05,275.35L417.05,276.45L415.10,278.65L413.80,278.65L411.85,276.45L411.85,275.35ZM421.06,273.15L422.36,273.15L424.31,275.35L424.31,276.45L422.36,278.65L421.06,278.65L419.11,276.45L419.11,275.35ZM428.33,272.15L429.62,272.15L431.58,274.35L431.58,275.45L429.62,277.65L428.33,277.65L426.38,275.45L426.38,274.35ZM435.59,273.15L436.89,273.15L438.84,275.35L438.84,276.45L436.89,278.65L435.59,278.65L433.64,276.45L433.64,275.35ZM442.85,273.15L444.15,273.15L446.10,275.35L446.10,276.45L444.15,278.65L442.85,278.65L440.90,276.45L440.90,275.35ZM450.11,273.15L451.41,273.15L453.36,275.35L453.36,276.45L451.41,278.65L450.11,278.65L448.16,276.45L448.16,275.35ZM457.38,272.15L458.67,272.15L460.62,274.35L460.62,275.45L458.67,277.65L457.38,277.65L455.42,275.45L455.42,274.35ZM464.64,272.05L465.94,272.05L467.89,274.25L467.89,275.35L465.94,277.55L464.64,277.55L462.69,275.35L462.69,274.25ZM471.90,269.85L473.20,269.85L475.15,272.05L475.15,273.15L473.20,275.35L471.90,275.35L469.95,273.15L469.95,272.05Z"/>
</g>
<g font-size="11.7" fill="#000" stroke="#000" stroke-width="0.15">
<text x="67.2" y="53.3" text-anchor="end" textLength="27.2" lengthAdjust="spacingAndGlyphs">1 300</text>
<text x="652.8" y="53.3" textLength="27.2" lengthAdjust="spacingAndGlyphs">1 300</text>
<text x="67.2" y="82.3" text-anchor="end" textLength="27.2" lengthAdjust="spacingAndGlyphs">1 200</text>
<text x="652.8" y="82.3" textLength="27.2" lengthAdjust="spacingAndGlyphs">1 200</text>
<text x="67.2" y="111.3" text-anchor="end" textLength="27.2" lengthAdjust="spacingAndGlyphs">1 100</text>
<text x="652.8" y="111.3" textLength="27.2" lengthAdjust="spacingAndGlyphs">1 100</text>
<text x="67.2" y="140.3" text-anchor="end" textLength="27.2" lengthAdjust="spacingAndGlyphs">1 000</text>
<text x="652.8" y="140.3" textLength="27.2" lengthAdjust="spacingAndGlyphs">1 000</text>
<text x="67.2" y="169.3" text-anchor="end" textLength="17.9" lengthAdjust="spacingAndGlyphs">900</text>
<text x="652.8" y="169.3" textLength="17.9" lengthAdjust="spacingAndGlyphs">900</text>
<text x="67.2" y="198.3" text-anchor="end" textLength="17.9" lengthAdjust="spacingAndGlyphs">800</text>
<text x="652.8" y="198.3" textLength="17.9" lengthAdjust="spacingAndGlyphs">800</text>
<text x="67.2" y="228.3" text-anchor="end" textLength="17.9" lengthAdjust="spacingAndGlyphs">700</text>
<text x="652.8" y="228.3" textLength="17.9" lengthAdjust="spacingAndGlyphs">700</text>
<text x="67.2" y="257.3" text-anchor="end" textLength="17.9" lengthAdjust="spacingAndGlyphs">600</text>
<text x="652.8" y="257.3" textLength="17.9" lengthAdjust="spacingAndGlyphs">600</text>
<text x="67.2" y="286.3" text-anchor="end" textLength="17.9" lengthAdjust="spacingAndGlyphs">500</text>
<text x="652.8" y="286.3" textLength="17.9" lengthAdjust="spacingAndGlyphs">500</text>
<text x="67.2" y="315.3" text-anchor="end" textLength="17.9" lengthAdjust="spacingAndGlyphs">400</text>
<text x="652.8" y="315.3" textLength="17.9" lengthAdjust="spacingAndGlyphs">400</text>
<text x="67.2" y="344.3" text-anchor="end" textLength="17.9" lengthAdjust="spacingAndGlyphs">300</text>
<text x="652.8" y="344.3" textLength="17.9" lengthAdjust="spacingAndGlyphs">300</text>
</g>
<g font-size="10" fill="#000" stroke="#000" stroke-width="0.15" text-anchor="middle">
<text x="94.6" y="373" textLength="23.4" lengthAdjust="spacingAndGlyphs">07.02</text>
<text x="95.2" y="385" textLength="9.6" lengthAdjust="spacingAndGlyphs">7h</text>
<text x="123.6" y="373" textLength="23.4" lengthAdjust="spacingAndGlyphs">08.02</text>
<text x="124.2" y="385" textLength="9.6" lengthAdjust="spacingAndGlyphs">7h</text>
<text x="152.6" y="373" textLength="23.4" lengthAdjust="spacingAndGlyphs">09.02</text>
<text x="153.2" y="385" textLength="9.6" lengthAdjust="spacingAndGlyphs">7h</text>
<text x="181.6" y="373" textLength="23.4" lengthAdjust="spacingAndGlyphs">10.02</text>
<text x="182.2" y="385" textLength="9.6" lengthAdjust="spacingAndGlyphs">7h</text>
<text x="210.6" y="373" textLength="23.4" lengthAdjust="spacingAndGlyphs">11.02</text>
<text x="211.2" y="385" textLength="9.6" lengthAdjust="spacingAndGlyphs">7h</text>
<text x="239.6" y="373" textLength="23.4" lengthAdjust="spacingAndGlyphs">12.02</text>
<text x="240.2" y="385" textLength="9.6" lengthAdjust="spacingAndGlyphs">7h</text>
<text x="268.6" y="373" textLength="23.4" lengthAdjust="spacingAndGlyphs">13.02</text>
<text x="269.2" y="385" textLength="9.6" lengthAdjust="spacingAndGlyphs">7h</text>
<text x="297.6" y="373" textLength="23.4" lengthAdjust="spacingAndGlyphs">14.02</text>
<text x="298.2" y="385" textLength="9.6" lengthAdjust="spacingAndGlyphs">7h</text>
<text x="326.6" y="373" textLength="23.4" lengthAdjust="spacingAndGlyphs">15.02</text>
<text x="327.2" y="385" textLength="9.6" lengthAdjust="spacingAndGlyphs">7h</text>
<text x="355.6" y="373" textLength="23.4" lengthAdjust="spacingAndGlyphs">16.02</text>
<text x="356.2" y="385" textLength="9.6" lengthAdjust="spacingAndGlyphs">7h</text>
<text x="384.6" y="373" textLength="23.4" lengthAdjust="spacingAndGlyphs">17.02</text>
<text x="385.2" y="385" textLength="9.6" lengthAdjust="spacingAndGlyphs">7h</text>
<text x="413.6" y="373" textLength="23.4" lengthAdjust="spacingAndGlyphs">18.02</text>
<text x="414.2" y="385" textLength="9.6" lengthAdjust="spacingAndGlyphs">7h</text>
<text x="443.6" y="373" textLength="23.4" lengthAdjust="spacingAndGlyphs">19.02</text>
<text x="444.2" y="385" textLength="9.6" lengthAdjust="spacingAndGlyphs">7h</text>
<text x="472.6" y="373" textLength="23.4" lengthAdjust="spacingAndGlyphs">20.02</text>
<text x="473.2" y="385" textLength="9.6" lengthAdjust="spacingAndGlyphs">7h</text>
<text x="501.6" y="373" textLength="23.4" lengthAdjust="spacingAndGlyphs">21.02</text>
<text x="502.2" y="385" textLength="9.6" lengthAdjust="spacingAndGlyphs">7h</text>
<text x="530.6" y="373" textLength="23.4" lengthAdjust="spacingAndGlyphs">22.02</text>
<text x="531.2" y="385" textLength="9.6" lengthAdjust="spacingAndGlyphs">7h</text>
<text x="559.6" y="373" textLength="23.4" lengthAdjust="spacingAndGlyphs">23.02</text>
<text x="560.2" y="385" textLength="9.6" lengthAdjust="spacingAndGlyphs">7h</text>
<text x="588.6" y="373" textLength="23.4" lengthAdjust="spacingAndGlyphs">24.02</text>
<text x="589.2" y="385" textLength="9.6" lengthAdjust="spacingAndGlyphs">7h</text>
<text x="617.6" y="373" textLength="23.4" lengthAdjust="spacingAndGlyphs">25.02</text>
<text x="618.2" y="385" textLength="9.6" lengthAdjust="spacingAndGlyphs">7h</text>
<text x="646.6" y="373" textLength="23.4" lengthAdjust="spacingAndGlyphs">26.02</text>
<text x="647.2" y="385" textLength="9.6" lengthAdjust="spacingAndGlyphs">7h</text>
</g>
<text font-size="10" fill="#1c1c1c" text-anchor="middle" transform="translate(33,201.5) rotate(-90)">Water level [cm]</text>
<text font-size="10" fill="#383838" text-anchor="middle" transform="translate(694.5,203.6) rotate(90)">Water level [cm]</text>
<text x="360.5" y="35" font-size="12.5" font-weight="bold" fill="#1212bc" text-anchor="middle" textLength="179.5" lengthAdjust="spacingAndGlyphs">Sió - Sió floodgate, downstream</text>
<rect x="216" y="391" width="295" height="15" fill="#ffffff" shape-rendering="crispEdges"/>
<line x1="220.8" y1="399" x2="246.6" y2="399" stroke="#0000d0" stroke-width="3" stroke-linecap="round"/>
<path d="M233.00,396.40L235.60,399.00L233.00,401.60L230.40,399.00Z" fill="#bcd8ff" stroke="#00008c" stroke-width="1"/>
<line x1="316.6" y1="399" x2="342.4" y2="399" stroke="#e00000" stroke-width="3" stroke-linecap="round"/>
<path d="M329.00,396.40L331.60,399.00L329.00,401.60L326.40,399.00Z" fill="#ffb4b4" stroke="#c00000" stroke-width="1"/>
<rect x="412" y="397" width="26" height="5" fill="#fbe6fb"/><rect x="412" y="399" width="26" height="1" fill="#a62ea6"/>
<g font-size="10.6" fill="#0a0a0a" stroke="#0a0a0a" stroke-width="0.15">
<text x="250.3" y="402.5" textLength="58.2" lengthAdjust="spacingAndGlyphs">Observation</text>
<text x="346.1" y="402.5" textLength="43.0" lengthAdjust="spacingAndGlyphs">Forecast</text>
<text x="441.8" y="402.5" textLength="62.6" lengthAdjust="spacingAndGlyphs">Error interval</text>
</g>
<text x="189" y="422" font-size="9.5" fill="#111" stroke="#111" stroke-width="0.2" textLength="355.8" lengthAdjust="spacingAndGlyphs">Water level is expected to remain within the error interval with the probability of 70%.</text>
<g font-size="10.8" fill="#2424c6" stroke="#2424c6" stroke-width="0.15">
<text x="31.3" y="450.5" textLength="300.8" lengthAdjust="spacingAndGlyphs">Hungarian Hydrological Forecasting Service, 20.02.2026 09:22</text>
<text x="374.8" y="450.5" textLength="94.4" lengthAdjust="spacingAndGlyphs">www.hydroinfo.hu</text>
<text x="513.8" y="450.5" style="white-space:pre" textLength="175.4" lengthAdjust="spacingAndGlyphs">[Using ECMWF (20.02.2026  00UTC)]</text>
</g>
<rect x="692" y="10" width="20" height="20" rx="3.5" fill="#1f47a3"/>
<path d="M699.3,16.5 H704.2 V26.3 H705.4 V28 H698.8 V26.3 H700.4 V18.2 H699.3 Z" fill="#ffffff"/>
<ellipse cx="701.9" cy="14.0" rx="2.5" ry="2.1" fill="#ffffff"/>
</svg></body></html>
